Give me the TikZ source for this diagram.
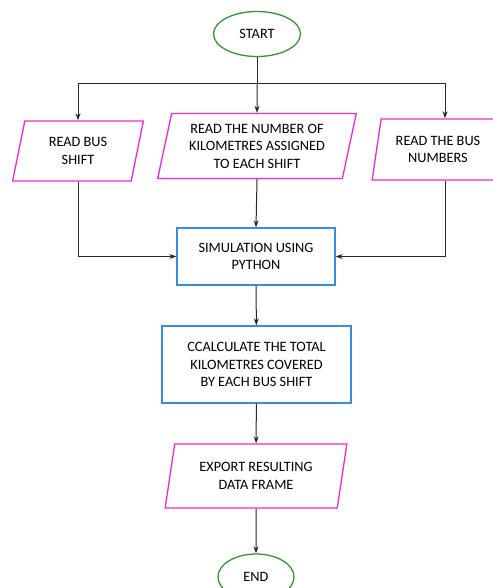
\documentclass[tikz,border=0pt]{standalone}
\usepackage{fontspec}
\setmainfont{Carlito}
\usetikzlibrary{shapes.geometric,arrows.meta}

\definecolor{termgreen}{RGB}{52,150,52}
\definecolor{iomagenta}{RGB}{238,40,220}
\definecolor{procblue}{RGB}{56,140,220}
\definecolor{linegray}{RGB}{40,40,40}

\tikzset{
    terminal/.style={ellipse, draw=termgreen, line width=1.3pt, minimum width=87, minimum height=45, inner sep=0pt},
    iobox/.style={trapezium, trapezium left angle=76, trapezium right angle=104, trapezium stretches=true,
        draw=iomagenta, line width=1.3pt, align=center, inner sep=0pt},
    procbox/.style={rectangle, draw=procblue, line width=1.3pt, align=center, inner sep=0pt},
    flow/.style={->, draw=linegray, line width=1pt}
}

\begin{document}
\begin{tikzpicture}[x=1pt, y=-1pt, >={Stealth[length=7pt,width=5pt]},
    font=\fontsize{14.3}{17.5}\selectfont]
    \useasboundingbox (0,0) rectangle (492,588);

    % Start
    \node[terminal] (start) at (257,34) {START};
    \coordinate (split) at (257,84);
    \coordinate (rjoin) at (445,84);

    % Inputs
    \node[iobox, minimum width=131, minimum height=60] (readshift) at (78,151) {READ BUS\\SHIFT};
    \node[iobox, minimum width=199, minimum height=65] (readkm) at (257,146) {READ THE NUMBER OF\\KILOMETRES ASSIGNED\\TO EACH SHIFT};
    \node[iobox, minimum width=132, minimum height=61] (readbus) at (438,149.5) {READ THE BUS\\NUMBERS};

    % Processing
    \node[procbox, minimum width=158, minimum height=57] (sim) at (256,256.5) {SIMULATION USING\\PYTHON};
    \node[procbox, minimum width=189, minimum height=77] (calc) at (256.5,364.5) {CCALCULATE THE TOTAL\\KILOMETRES COVERED\\BY EACH BUS SHIFT};

    % Output
    \node[iobox, minimum width=182, minimum height=64] (export) at (256,476) {EXPORT RESULTING\\DATA FRAME};
    \node[terminal, minimum width=76, minimum height=46] (end) at (256,577) {END};

    % Connectors
    \draw[linegray, line width=1pt] (start) -- (split);
    \draw[flow] (split) -| (readshift.north);
    \draw[flow] (split) -- (readkm.north);
    \draw[flow] (split) -- (rjoin) -- (rjoin |- readbus.north);
    \draw[flow] (readshift.south) |- (sim.west);
    \draw[flow] (readkm.south) -- (sim.north);
    \draw[flow] (rjoin |- readbus.south) |- (sim.east);
    \draw[flow] (sim) -- (calc);
    \draw[flow] (calc) -- (export);
    \draw[flow] (export) -- (end);
\end{tikzpicture}
\end{document}
